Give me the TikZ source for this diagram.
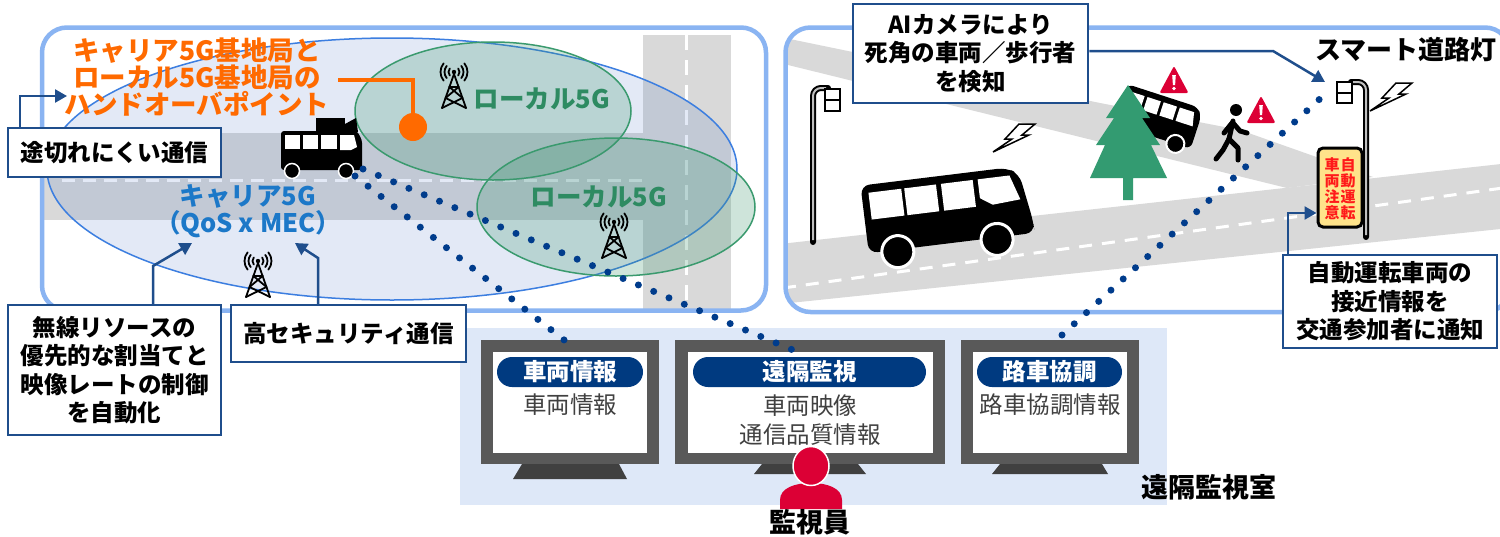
\documentclass[tikz,border=0pt]{standalone}
\usepackage{fontspec}
\setmainfont{Noto Sans CJK JP}
\usetikzlibrary{arrows.meta,shapes.geometric}

\definecolor{navy}{HTML}{1F4E8C}
\definecolor{dotblue}{HTML}{003C8C}
\definecolor{pillblue}{HTML}{003A80}
\definecolor{orng}{HTML}{FF6A00}
\definecolor{cblue}{HTML}{1C78C8}
\definecolor{cstroke}{HTML}{3C7EE0}
\definecolor{cfill}{HTML}{4472C4}
\definecolor{gtext}{HTML}{2E8B62}
\definecolor{gstroke}{HTML}{3A9A6E}
\definecolor{gfill}{HTML}{3C966E}
\definecolor{panelblue}{HTML}{8AB4F2}
\definecolor{road}{HTML}{D9D9D9}
\definecolor{room}{HTML}{DEE8F8}
\definecolor{mon}{HTML}{595959}
\definecolor{standc}{HTML}{404040}
\definecolor{screengray}{HTML}{404040}
\definecolor{crim}{HTML}{DC0035}
\definecolor{treec}{HTML}{339B71}
\definecolor{signy}{HTML}{FFE38A}
\definecolor{signred}{HTML}{FF1A1A}

\newcommand\fs[2]{\fontsize{#1}{#2}\selectfont}

% lattice radio mast, base centre at #1
\newcommand\radiotower[1]{%
  \begin{scope}[shift={#1}, line width=1.8pt, line cap=round, line join=round]
    \draw (0,-34) -- (-12,0) (0,-34) -- (12,0);
    \draw (-4.6,-21) -- (4.6,-21);
    \draw (-4.6,-21) -- (8.5,-10) (4.6,-21) -- (-8.5,-10);
    \draw (-8.5,-10) -- (12,0) (8.5,-10) -- (-12,0);
    \fill (0,-36) circle (2.2);
    \foreach \r in {5.5,9.5,13.5} {
      \draw (0,-36) ++(140:\r) arc[start angle=140, end angle=220, radius=\r];
      \draw (0,-36) ++(-40:\r) arc[start angle=-40, end angle=40, radius=\r];
    }
  \end{scope}}

% lightning bolt centred at #1
\newcommand\bolt[1]{%
  \filldraw[fill=white, draw=black, line width=1.5pt, line join=miter, shift={#1}]
    (6,-14) -- (22,-14) -- (9,-3) -- (16,-3) -- (-20,14) -- (-1,1) -- (-8,1) -- cycle;}

% red warning triangle centred at #1
\newcommand\warnsign[1]{%
  \begin{scope}[shift={#1}]
    \fill[crim, rounded corners=2pt] (0,-14) -- (14.5,13) -- (-14.5,13) -- cycle;
    \fill[white] (-1.8,-5) -- (1.8,-5) -- (1.1,5) -- (-1.1,5) -- cycle;
    \fill[white] (0,8.5) circle (1.9);
  \end{scope}}

\begin{document}
\begin{tikzpicture}[x=1pt,y=-1pt,
  callout/.style={draw=navy, line width=2.5pt, fill=white, align=center, inner sep=0pt,
    font=\bfseries\fs{23.5}{28.5}},
  calloutarrow/.style={draw=navy, line width=2.5pt, -{Triangle[length=12pt,width=13pt]}},
  dotline/.style={draw=dotblue, line width=7pt, line cap=round, dash pattern=on 0pt off 16.6pt},
  roadline/.style={draw=white, line width=3pt},
  panelframe/.style={draw=panelblue, line width=4.5pt, rounded corners=25pt},
  pill/.style={fill=pillblue, rounded corners=15pt, text=white, inner sep=0pt,
    minimum height=30, font=\bfseries\fs{23.5}{28}},
  screentext/.style={text=screengray, align=center, inner sep=0pt, font=\fs{23.5}{29}},
  monframe/.style={fill=mon, inner sep=0pt, minimum height=124},
  screen/.style={fill=white, inner sep=0pt, minimum height=101},
  plain/.style={inner sep=0pt, align=center},
]
\useasboundingbox (0,0) rectangle (1500,536);
\fill[white] (0,0) rectangle (1500,536);

% ---------------- remote monitoring room ----------------
\fill[room] (460,328) rectangle (1167,505);

% ---------------- left panel: coverage map ----------------
\begin{scope}
  \clip[rounded corners=25pt] (42,27.5) rectangle (766,310.5);
  \fill[road] (40,133) rectangle (643,220);
  \fill[road] (643,35) rectangle (731,315);
  \draw[roadline, dash pattern=on 13pt off 8pt] (62,180) -- (643,180);
  \draw[roadline, dash pattern=on 15pt off 10pt] (686,35) -- (686,312);
\end{scope}
\filldraw[fill=cfill, fill opacity=0.15, draw=cstroke, line width=1.5pt]
  (392,169) ellipse [x radius=345, y radius=131];
\filldraw[fill=gfill, fill opacity=0.25, draw=gstroke, line width=1.5pt]
  (493,111) ellipse [x radius=138, y radius=69];
\filldraw[fill=gfill, fill opacity=0.25, draw=gstroke, line width=1.5pt]
  (616,207) ellipse [x radius=139, y radius=69];
\draw[panelframe] (42,27.5) rectangle (766,310.5);

\radiotower{(454,108)}
\radiotower{(614,258)}
\radiotower{(258,297)}

\node[plain, text=gtext, font=\bfseries\fs{25.5}{30}] (local1) at (542,99) {ローカル5G};
\node[plain, text=gtext, font=\bfseries\fs{25.5}{30}] (local2) at (599,197) {ローカル5G};
\node[plain, text=cblue, font=\bfseries\fs{25.5}{27}] (carrier) at (248,211) {キャリア5G\\（QoS x MEC）};
\node[plain, text=orng, font=\bfseries\fs{26.5}{27}] (handlbl) at (197,77)
  {キャリア5G基地局と\\ローカル5G基地局の\\ハンドオーバポイント};

% hand-over point marker
\node[circle, fill=orng, minimum size=28, inner sep=0pt] (hand) at (413,127) {};
\coordinate (handStart) at (338,80);
\draw[orng, line width=4pt] (handStart) -| (hand.north);

% small bus with roof equipment
\begin{scope}
  \fill[black, rounded corners=3pt] (281,131) -- (357,131) -- (362,140) -- (362,170) -- (281,170) -- cycle;
  \fill[black] (316,118) rectangle (345,132);
  \fill[black] (345,132) -- (345,124) -- (356,118) -- (358,132) -- cycle;
  \fill[white] (285,135) rectangle (300,149);
  \fill[white] (303,135) rectangle (318,149);
  \fill[white] (321,135) rectangle (337,149);
  \fill[white] (340,135) -- (354,135) -- (357,147) -- (351,150) -- (340,150) -- cycle;
  \filldraw[fill=black, draw=white, line width=1.5pt] (292,171) circle (7.5);
  \filldraw[fill=black, draw=white, line width=1.5pt] (346,171) circle (7.5);
\end{scope}
\coordinate (busA) at (355,176);
\coordinate (busB) at (363,169);

% ---------------- right panel: road scene ----------------
\begin{scope}
  \clip[rounded corners=25pt] (785.5,27.5) rectangle (1510,312);
  \fill[road] (780,37) -- (1100,103) -- (1240,130) -- (1373,177) -- (1287,188) -- (780,63) -- cycle;
  \fill[road] (780,244) -- (1510,163) -- (1510,228) -- (780,304) -- cycle;
  \draw[roadline, dash pattern=on 13pt off 10pt] (783,288) -- (1510,187);
\end{scope}
\draw[panelframe] (785.5,27.5) rectangle (1510,312);

% street lights
\draw[black, line width=6pt, line cap=round, rounded corners=8pt] (813,242) -- (813,88) -- (828,88);
\draw[black!25, line width=2pt, rounded corners=8pt] (813,240) -- (813,88) -- (826,88);
\filldraw[fill=white, draw=black, line width=2.2pt] (825,89) rectangle (840,111);
\draw[black, line width=2pt] (825,100) -- (840,100);
\draw[black, line width=6pt, line cap=round, rounded corners=8pt] (1366,237) -- (1366,82) -- (1351,82);
\draw[black!25, line width=2pt, rounded corners=8pt] (1366,235) -- (1366,82) -- (1353,82);
\filldraw[fill=white, draw=black, line width=2.2pt] (1337,82) rectangle (1352,103);
\draw[black, line width=2pt] (1337,93) -- (1352,93);

% large bus
\begin{scope}[shift={(950,217)}, rotate=7]
  \fill[black, rounded corners=9pt] (-85,-42) -- (62,-42) -- (74,-34) -- (82,14) -- (82,26) -- (-85,26) -- cycle;
  \fill[white] (-78,-34) rectangle (-45,-7);
  \fill[white] (-42,-34) rectangle (-10,-7);
  \fill[white] (-5,-34) rectangle (27,-7);
  \fill[white] (32,-34) -- (64,-34) -- (72,-9) -- (44,-7) -- (32,-15) -- cycle;
  \filldraw[fill=black, draw=white, line width=3pt] (-56,28) circle (16);
  \filldraw[fill=black, draw=white, line width=3pt] (44,28) circle (16);
\end{scope}
\bolt{(1013,138)}
\bolt{(1390,97)}

% bus behind the tree
\begin{scope}[shift={(1160,120)}, rotate=-18]
  \fill[black, rounded corners=6pt] (-42,-24) -- (32,-24) -- (38,-16) -- (38,18) -- (-42,18) -- cycle;
  \fill[white] (-36,-18) rectangle (-22,-4);
  \fill[white] (-19,-18) rectangle (-5,-4);
  \fill[white] (-2,-18) rectangle (12,-4);
  \fill[white] (15,-18) -- (30,-18) -- (33,-4) -- (15,-4) -- cycle;
  \filldraw[fill=black, draw=white, line width=2pt] (-26,18) circle (9);
  \filldraw[fill=black, draw=white, line width=2pt] (22,18) circle (9);
\end{scope}

% tree
\fill[treec] (1128,85) -- (1150,118) -- (1142,118) -- (1160,145) -- (1151,145)
  -- (1167,178) -- (1133,178) -- (1133,200) -- (1123,200) -- (1123,178) -- (1090,178)
  -- (1105,145) -- (1096,145) -- (1114,118) -- (1106,118) -- cycle;

% pedestrian
\begin{scope}[black, line width=5pt, line cap=round, line join=round]
  \fill (1236,110) circle (6);
  \draw (1233,121) -- (1229,139);
  \draw (1229,139) -- (1238,148) -- (1238,160);
  \draw (1229,139) -- (1223,150) -- (1216,159);
  \draw (1232,123) -- (1224,133);
  \draw (1233,123) -- (1240,131) -- (1247,133);
\end{scope}

\warnsign{(1174,80)}
\warnsign{(1261,110)}

% roadside sign
\node[draw=black, line width=3pt, fill=signy, rounded corners=5pt, minimum width=44, minimum height=79, inner sep=0pt] (sign) at (1340,187.5) {};
\node[plain, text=signred, font=\bfseries\fs{15}{16}] (signR) at (1348,189) {自\\動\\運\\転};
\node[plain, text=signred, font=\bfseries\fs{15}{16}] (signL) at (1332,189) {車\\両\\注\\意};

\node[plain, font=\bfseries\fs{26}{30}] (smartlbl) at (1406,50) {スマート道路灯};

% ---------------- monitors ----------------
\node[monframe, minimum width=178] (mon1) at (570,402) {};
\node[screen, minimum width=154] (scr1) at (570,402.5) {};
\fill[standc] (522,464) -- (619,464) -- (627,479) -- (513,479) -- cycle;
\node[monframe, minimum width=270] (mon2) at (810,402) {};
\node[screen, minimum width=245] (scr2) at (810.5,402.5) {};
\fill[standc] (762,464) -- (858,464) -- (866,474) -- (754,474) -- cycle;
\node[monframe, minimum width=178] (mon3) at (1050,402) {};
\node[screen, minimum width=154] (scr3) at (1050,402.5) {};
\fill[standc] (1000,464) -- (1102,464) -- (1108,474) -- (992,474) -- cycle;

\node[pill, minimum width=146] (p1) at (570,372) {車両情報};
\node[pill, minimum width=233] (p2) at (809.5,372) {遠隔監視};
\node[pill, minimum width=145] (p3) at (1049.5,372) {路車協調};
\node[screentext] (t1) at (570,405) {車両情報};
\node[screentext] (t2) at (810,420) {車両映像\\通信品質情報};
\node[screentext] (t3) at (1050,405) {路車協調情報};

\node[plain, anchor=west, font=\bfseries\fs{27}{30}] (roomlbl) at (1141,487) {遠隔監視室};

% monitoring operator
\fill[crim] (780,509) -- (780,500) .. controls (780,488) and (795,483) .. (811,483)
  .. controls (827,483) and (842,488) .. (842,500) -- (842,509) -- cycle;
\node[ellipse, fill=crim, draw=white, line width=1.5pt, minimum width=36, minimum height=39, inner sep=0pt] (head) at (811,466) {};
\node[plain, font=\bfseries\fs{27}{30}] (watcher) at (810,522) {監視員};

% ---------------- wireless links ----------------
\coordinate (monA) at (568,343);
\coordinate (monB) at (800,353);
\coordinate (monC) at (1062,335);
\coordinate (lampC) at (1323,96);
\draw[dotline] (busA) -- (monA);
\draw[dotline] (busB) -- (monB);
\draw[dotline] (monC) -- (lampC);

% ---------------- callouts ----------------
\node[callout, minimum width=213, minimum height=49] (cut) at (114.5,152.5) {途切れにくい通信};
\node[callout, minimum width=213, minimum height=130] (res) at (114.5,370)
  {無線リソースの\\優先的な割当てと\\映像レートの制御\\を自動化};
\node[callout, minimum width=235, minimum height=57] (sec) at (348.5,333.5) {高セキュリティ通信};
\node[callout, minimum width=235, minimum height=99] (ai) at (970.5,53.5)
  {AIカメラにより\\死角の車両／歩行者\\を検知};
\node[callout, minimum width=214, minimum height=93] (adv) at (1390,301.5)
  {自動運転車両の\\接近情報を\\交通参加者に通知};

\coordinate (cutTip) at (67,96);
\draw[calloutarrow] ([xshift=13pt]cut.north west) |- (cutTip);
\coordinate (resBend) at (153,266);
\coordinate (resTip) at (192,243);
\draw[calloutarrow] (res.north -| resBend) -- (resBend) -- (resTip);
\coordinate (secBend) at (318,258);
\coordinate (secTip) at (295,243);
\draw[calloutarrow] (sec.north -| secBend) -- (secBend) -- (secTip);
\coordinate (aiBend) at (1273,51);
\coordinate (aiTip) at (1325,82);
\draw[calloutarrow] (ai.east |- aiBend) -- (aiBend) -- (aiTip);
\coordinate (advBend) at (1288,213);
\draw[calloutarrow] (adv.north -| advBend) -- (advBend) -- (sign.west |- advBend);
\end{tikzpicture}
\end{document}
